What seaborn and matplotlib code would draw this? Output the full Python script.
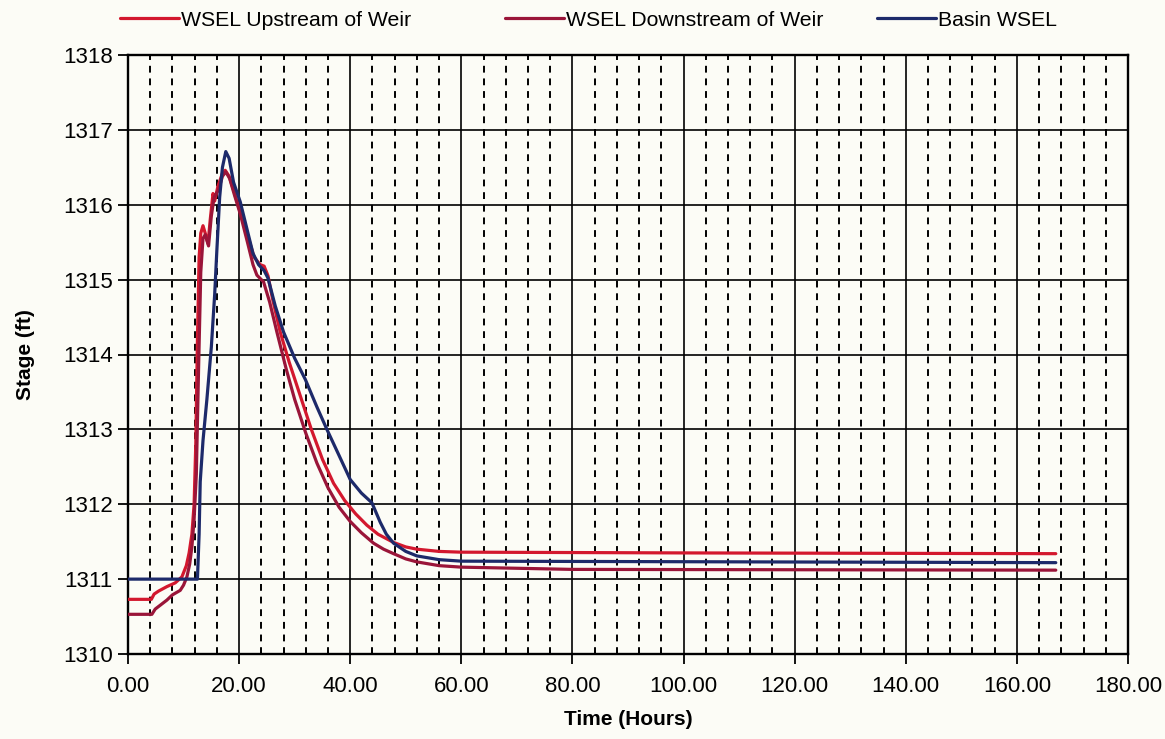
import numpy as np
import pandas as pd
import matplotlib
matplotlib.use("Agg")
import matplotlib.pyplot as plt
from matplotlib.ticker import MultipleLocator, FormatStrFormatter
import seaborn as sns

# Stage hydrographs (time in hours, stage in ft)
up_hours = [0, 4.2, 4.7, 5.5, 7.0, 8.5, 9.7, 10.5, 11.0, 11.5, 11.9, 12.2, 12.5, 12.8,
            13.1, 13.5, 13.9, 14.4, 14.8, 15.3, 15.6, 16.2, 17.0, 17.5, 18.2, 19.2,
            20.2, 21.5, 22.7, 23.8, 24.5, 25.2, 26.0, 27.4, 29.0, 31.0, 33.0, 35.0,
            37.0, 39.0, 41.0, 43.0, 45.0, 47.8, 50.0, 52.0, 56.0, 60.0, 100.0, 167.0]
up_stage = [1310.73, 1310.73, 1310.80, 1310.84, 1310.90, 1310.95, 1311.03, 1311.18,
            1311.35, 1311.60, 1312.00, 1312.80, 1314.20, 1315.30, 1315.62, 1315.72,
            1315.62, 1315.48, 1315.80, 1316.15, 1316.05, 1316.25, 1316.42, 1316.46,
            1316.38, 1316.15, 1315.90, 1315.60, 1315.30, 1315.20, 1315.18, 1315.05,
            1314.75, 1314.30, 1313.90, 1313.45, 1313.00, 1312.60, 1312.28, 1312.05,
            1311.87, 1311.72, 1311.60, 1311.49, 1311.43, 1311.40, 1311.37, 1311.36,
            1311.35, 1311.34]

down_hours = [0, 4.3, 4.9, 5.6, 7.0, 8.0, 9.4, 10.0, 10.6, 11.1, 11.5, 11.9, 12.3, 12.7,
              13.1, 13.5, 13.9, 14.5, 15.0, 15.5, 16.3, 17.0, 17.6, 18.3, 19.2, 20.2,
              21.5, 22.5, 23.2, 24.4, 25.5, 26.8, 28.5, 30.0, 32.0, 34.0, 36.0, 38.0,
              40.0, 42.0, 44.2, 46.0, 47.8, 50.0, 52.0, 56.0, 60.0, 80.0, 167.0]
down_stage = [1310.53, 1310.53, 1310.60, 1310.64, 1310.72, 1310.79, 1310.85, 1310.92,
              1311.03, 1311.20, 1311.43, 1311.80, 1312.40, 1313.80, 1315.10, 1315.55,
              1315.60, 1315.45, 1315.85, 1316.10, 1316.20, 1316.38, 1316.44, 1316.35,
              1316.12, 1315.88, 1315.50, 1315.20, 1315.06, 1314.97, 1314.70, 1314.30,
              1313.80, 1313.40, 1312.95, 1312.55, 1312.22, 1311.96, 1311.77, 1311.62,
              1311.48, 1311.40, 1311.34, 1311.27, 1311.23, 1311.18, 1311.16, 1311.13,
              1311.12]

basin_hours = [0, 12.5, 12.8, 13.0, 13.5, 14.2, 15.0, 15.6, 16.0, 16.5, 17.0, 17.6,
               18.2, 19.0, 20.2, 21.5, 22.5, 23.5, 24.5, 25.2, 26.5, 28.0, 30.0, 31.9,
               34.0, 35.8, 38.0, 40.0, 42.0, 43.9, 45.4, 46.5, 47.8, 50.0, 52.0, 56.0,
               60.0, 167.0]
basin_stage = [1311.00, 1311.00, 1311.60, 1312.30, 1312.85, 1313.40, 1314.10, 1314.80,
               1315.40, 1316.10, 1316.50, 1316.71, 1316.62, 1316.30, 1316.04, 1315.65,
               1315.35, 1315.20, 1315.12, 1315.02, 1314.65, 1314.30, 1313.95, 1313.67,
               1313.30, 1313.00, 1312.65, 1312.33, 1312.15, 1312.02, 1311.76, 1311.60,
               1311.48, 1311.37, 1311.31, 1311.26, 1311.24, 1311.22]

series_names = ["WSEL Upstream of Weir", "WSEL Downstream of Weir", "Basin WSEL"]
series_colors = ["#d3182e", "#9a1539", "#1d2a6a"]

df = pd.concat([
    pd.DataFrame({"Time (Hours)": up_hours, "Stage (ft)": up_stage, "Series": series_names[0]}),
    pd.DataFrame({"Time (Hours)": down_hours, "Stage (ft)": down_stage, "Series": series_names[1]}),
    pd.DataFrame({"Time (Hours)": basin_hours, "Stage (ft)": basin_stage, "Series": series_names[2]}),
], ignore_index=True)

sns.set_style("ticks")
plt.rcParams["font.family"] = ["Liberation Sans", "DejaVu Sans"]
plt.rcParams["text.color"] = "black"
plt.rcParams["axes.labelcolor"] = "black"

bg = "#fcfcf6"
fig = plt.figure(figsize=(11.65, 7.39), dpi=100, facecolor=bg)
ax = fig.add_axes([128 / 1165, 1 - 654 / 739, 1000 / 1165, 599 / 739])
ax.set_facecolor(bg)

sns.lineplot(data=df, x="Time (Hours)", y="Stage (ft)", hue="Series",
             palette=dict(zip(series_names, series_colors)), hue_order=series_names,
             estimator=None, sort=False, linewidth=2.3, ax=ax, zorder=5)

ax.set_xlim(0, 180)
ax.set_ylim(1310, 1318)
ax.xaxis.set_major_locator(MultipleLocator(20))
ax.xaxis.set_minor_locator(MultipleLocator(4))
ax.yaxis.set_major_locator(MultipleLocator(1))
ax.xaxis.set_major_formatter(FormatStrFormatter("%.2f"))

ax.grid(which="major", axis="both", color="black", linewidth=1.2, linestyle="-")
ax.grid(which="minor", axis="x", color="black", linewidth=1.4, linestyle=(0, (3.5, 3)))
ax.set_axisbelow(True)

for s in ax.spines.values():
    s.set_color("black")
    s.set_linewidth(1.7)

ax.tick_params(which="major", direction="out", length=7, width=1.3, colors="black",
               labelsize=16)
ax.tick_params(axis="x", which="major", pad=9)
ax.tick_params(axis="y", which="major", pad=4)
ax.tick_params(which="minor", length=0)

ax.set_xlabel("Time (Hours)", fontsize=15, fontweight="bold", labelpad=9)
ax.set_ylabel("Stage (ft)", fontsize=15, fontweight="bold", labelpad=20)

# Legend entries sit at fixed positions across the top of the figure
handles, labels = ax.get_legend_handles_labels()
ax.get_legend().remove()
legend_x = [111, 496, 868]
for h, lab, x in zip(handles, labels, legend_x):
    leg = fig.legend([h], [lab], loc="center left",
                     bbox_to_anchor=(x / 1165, 1 - 20 / 739),
                     frameon=False, fontsize=15.3, handlelength=2.8,
                     handletextpad=0.1, borderaxespad=0)

fig.savefig("out.png", dpi=100, facecolor=bg)
